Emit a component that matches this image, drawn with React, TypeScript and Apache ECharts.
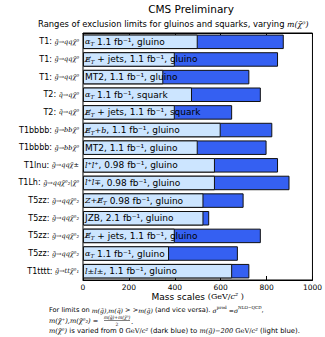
import React, { useEffect, useRef } from "react";
import * as echarts from "echarts";

// ---------- data ----------
const processLabels = [
  "{a|T1: }{m|g̃→qqχ̃⁰}",
  "{a|T1: }{m|g̃→qqχ̃⁰}",
  "{a|T1: }{m|g̃→qqχ̃⁰}",
  "{a|T2: }{m|q̃→qχ̃⁰}",
  "{a|T2: }{m|q̃→qχ̃⁰}",
  "{a|T1bbbb: }{m|g̃→bbχ̃⁰}",
  "{a|T1bbbb: }{m|g̃→bbχ̃⁰}",
  "{a|T1lnu: }{m|g̃→qqχ̃±}",
  "{a|T1Lh: }{m|g̃→qqχ̃⁰₂|χ̃⁰}",
  "{a|T5zz: }{m|g̃→qqχ̃⁰₂}",
  "{a|T5zz: }{m|g̃→qqχ̃⁰₂}",
  "{a|T5zz: }{m|g̃→qqχ̃⁰₂}",
  "{a|T5zz: }{m|g̃→qqχ̃⁰₂}",
  "{a|T1tttt: }{m|g̃→ttχ̃⁰₁}",
];

const analysisLabels = [
  "{i|α}{s|T} 1.1 fb⁻¹, gluino",
  "{i|E̸}{s|T} + jets, 1.1 fb⁻¹, gluino",
  "MT2, 1.1 fb⁻¹, gluino",
  "{i|α}{s|T} 1.1 fb⁻¹, squark",
  "{i|E̸}{s|T} + jets, 1.1 fb⁻¹, squark",
  "{i|E̸}{s|T}{i|+b}, 1.1 fb⁻¹, gluino",
  "MT2, 1.1 fb⁻¹, gluino",
  "{i|l⁺l⁺}, 0.98 fb⁻¹, gluino",
  "{i|l⁺l∓}, 0.98 fb⁻¹, gluino",
  "{i|Z+E̸}{s|T} 0.98 fb⁻¹, gluino",
  "JZB, 2.1 fb⁻¹, gluino",
  "{i|E̸}{s|T} + jets, 1.1 fb⁻¹, gluino",
  "{i|α}{s|T} 1.1 fb⁻¹, gluino",
  "{i|l±l±}, 1.1 fb⁻¹, gluino",
];

// limit with m(LSP) = 0 (dark blue)
const limitsDark = [875, 850, 725, 775, 650, 825, 800, 850, 900, 700, 550, 775, 675, 725];
// limit with m(LSP) = m(g) - 200 (light blue)
const limitsLight = [500, 400, 350, 475, 400, 600, 500, 575, 575, 525, 525, 400, 375, 650];

const xTicks = { min: 0, max: 1000, interval: 200 };

// ---------- styles ----------
const SANS = "DejaVu Sans";
const SERIF = "DejaVu Serif";
const DARK = "#3560f2";
const LIGHT = "#cce5ff";

export default function App() {
  const ref = useRef<HTMLDivElement>(null);

  useEffect(() => {
    if (!ref.current) return;
    const chart = echarts.init(ref.current, null, { renderer: "svg" });
    const cats = processLabels.map((_, i) => String(i));

    const mathRich = {
      i: { fontFamily: SERIF, fontStyle: "italic", fontSize: 8, color: "#000" },
      s: { fontFamily: SERIF, fontStyle: "italic", fontSize: 5.5, color: "#000", verticalAlign: "bottom", lineHeight: 11 },
    };

    const footM = { fontFamily: SERIF, fontStyle: "italic", fontSize: 6.6 };

    const option: any = {
      animation: false,
      backgroundColor: "#fff",
      grid: {
        left: 83,
        right: 12,
        top: 33,
        bottom: 57,
        show: true,
        borderColor: "#000",
        borderWidth: 1,
        backgroundColor: "#fff",
      },
      xAxis: [
        {
          type: "value",
          min: xTicks.min,
          max: xTicks.max,
          interval: xTicks.interval,
          position: "bottom",
          axisLine: { show: true, lineStyle: { color: "#000", width: 1 } },
          axisTick: { show: true, inside: true, length: 4, lineStyle: { color: "#000" } },
          axisLabel: {
            show: true,
            showMinLabel: true,
            showMaxLabel: true,
            fontFamily: SANS,
            fontSize: 7.5,
            color: "#000",
            margin: 3,
            formatter: (v: number) => String(v),
          },
          splitLine: { show: false },
          name: "Mass scales {r|(GeV/}{c|c²}{r| )}",
          nameLocation: "middle",
          nameGap: 12,
          nameMoveOverlap: false,
          nameTextStyle: {
            fontFamily: SANS,
            fontSize: 9,
            color: "#000",
            rich: {
              r: { fontFamily: SERIF, fontSize: 8, color: "#000" },
              c: { fontFamily: SERIF, fontStyle: "italic", fontSize: 8, color: "#000" },
            },
          },
        },
        {
          type: "value",
          min: xTicks.min,
          max: xTicks.max,
          interval: xTicks.interval,
          position: "top",
          axisLine: { show: true, lineStyle: { color: "#000", width: 1 } },
          axisTick: { show: true, inside: true, length: 4, lineStyle: { color: "#000" } },
          axisLabel: { show: false },
          splitLine: { show: false },
        },
      ],
      yAxis: {
        type: "category",
        data: cats,
        inverse: true,
        axisLine: { show: false },
        axisTick: { show: false },
        splitLine: { show: false },
        axisLabel: {
          margin: 4,
          formatter: (_v: string, idx: number) => processLabels[idx],
          rich: {
            a: { fontFamily: SANS, fontSize: 8, color: "#000" },
            m: { fontFamily: SERIF, fontStyle: "italic", fontSize: 6.5, color: "#000" },
          },
        },
      },
      series: [
        {
          type: "bar",
          data: limitsDark,
          barWidth: 14.5,
          barGap: "-100%",
          itemStyle: { color: DARK, borderColor: "#111", borderWidth: 1 },
          silent: true,
        },
        {
          type: "bar",
          data: limitsLight,
          barWidth: 14.5,
          barGap: "-100%",
          itemStyle: { color: LIGHT, borderColor: "#111", borderWidth: 1 },
          silent: true,
          label: {
            show: true,
            position: "insideLeft",
            distance: 2,
            fontFamily: SANS,
            fontSize: 9,
            color: "#000",
            formatter: (p: any) => analysisLabels[p.dataIndex],
            rich: mathRich,
          },
        },
      ],
      graphic: [
        {
          type: "text",
          x: 191,
          y: 9,
          style: { text: "CMS Preliminary", fontFamily: SANS, fontSize: 10.5, fill: "#000", align: "center", verticalAlign: "middle" },
        },
        {
          type: "text",
          x: 38,
          y: 24,
          style: {
            text: "Ranges of exclusion limits for gluinos and squarks, varying {m|m(χ̃⁰)}",
            fontFamily: SANS,
            fontSize: 8.4,
            fill: "#000",
            align: "left",
            verticalAlign: "middle",
            rich: { m: { fontFamily: SERIF, fontStyle: "italic", fontSize: 7.8 } },
          },
        },
        {
          type: "text",
          x: 49,
          y: 310,
          style: {
            text: "For limits on {m|m(g̃),m(q̃)} > >{m|m(g̃)} (and vice versa). {m|σ}{u|prod} {m|=σ}{u|NLO−QCD},",
            fontFamily: SANS,
            fontSize: 6.6,
            fill: "#000",
            align: "left",
            verticalAlign: "middle",
            rich: {
              m: { fontFamily: SERIF, fontStyle: "italic", fontSize: 6.2 },
              u: { fontFamily: SERIF, fontSize: 4.2, verticalAlign: "top", lineHeight: 9 },
            },
          },
        },
        {
          type: "text",
          x: 49,
          y: 321,
          style: {
            text: "{m|m(χ̃⁺),m(χ̃⁰₂) =}",
            fontFamily: SANS,
            fontSize: 6.9,
            fill: "#000",
            align: "left",
            verticalAlign: "middle",
            rich: { m: footM },
          },
        },
        {
          type: "text",
          x: 117,
          y: 317.5,
          style: { text: "m(g̃)+m(χ̃⁰)", fontFamily: SERIF, fontStyle: "italic", fontSize: 4.5, fill: "#000", align: "center", verticalAlign: "middle" },
        },
        {
          type: "line",
          shape: { x1: 104, y1: 320.5, x2: 130, y2: 320.5 },
          style: { stroke: "#000", lineWidth: 0.5 },
        },
        {
          type: "text",
          x: 117,
          y: 324,
          style: { text: "2", fontFamily: SERIF, fontSize: 4.5, fill: "#000", align: "center", verticalAlign: "middle" },
        },
        {
          type: "text",
          x: 131,
          y: 322,
          style: { text: ".", fontFamily: SANS, fontSize: 6.9, fill: "#000", align: "left", verticalAlign: "middle" },
        },
        {
          type: "text",
          x: 49,
          y: 331,
          style: {
            text: "{m|m(χ̃⁰)} is varied from 0 {r|GeV/}{m|c²} (dark blue) to {m|m(g̃)−200} {r|GeV/}{m|c²} (light blue).",
            fontFamily: SANS,
            fontSize: 6.9,
            fill: "#000",
            align: "left",
            verticalAlign: "middle",
            rich: {
              m: footM,
              r: { fontFamily: SERIF, fontSize: 6.6 },
            },
          },
        },
      ],
    };
    chart.setOption(option);
    return () => chart.dispose();
  }, []);

  return (
    <div
      ref={ref}
      style={{ position: "absolute", left: 0, top: 0, width: 325, height: 337 }}
    />
  );
}
